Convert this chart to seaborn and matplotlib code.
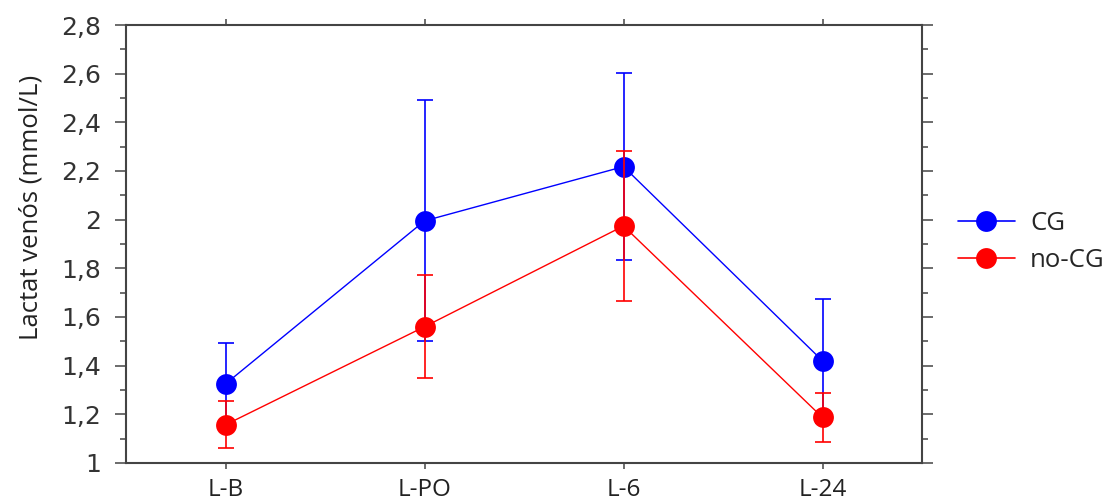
import numpy as np
import pandas as pd
import matplotlib
matplotlib.use("Agg")
import matplotlib.pyplot as plt
import seaborn as sns
from matplotlib.lines import Line2D
from matplotlib.ticker import MultipleLocator, FuncFormatter

categories = ["L-B", "L-PO", "L-6", "L-24"]
cg_mean = [1.325, 1.995, 2.218, 1.42]
cg_err = [0.17, 0.495, 0.385, 0.255]
nocg_mean = [1.157, 1.56, 1.974, 1.187]
nocg_err = [0.097, 0.212, 0.307, 0.10]
groups = ["CG", "no-CG"]
colors = {"CG": "#0000FF", "no-CG": "#FF0000"}

sns.set_theme(style="white")
plt.rcParams["font.family"] = ["Open Sans", "DejaVu Sans"]

pos = np.arange(len(categories))
df = pd.DataFrame({
    "pos": np.concatenate([pos, pos]),
    "value": cg_mean + nocg_mean,
    "group": ["CG"] * len(categories) + ["no-CG"] * len(categories),
})

fig = plt.figure(figsize=(11.06, 5.04), dpi=100)
ax = fig.add_axes([126 / 1106, 1 - 463 / 504, (922 - 126) / 1106, (463 - 25) / 504])

# blue error bars behind the markers, red ones on top
ax.errorbar(pos, cg_mean, yerr=cg_err, fmt="none", ecolor=colors["CG"], elinewidth=1.2,
            capsize=5.5, capthick=1.2, zorder=1.5)

sns.lineplot(data=df, x="pos", y="value", hue="group", palette=colors,
             marker="o", markersize=15, markeredgewidth=0, linewidth=1.0,
             legend=False, ax=ax)

ax.errorbar(pos, nocg_mean, yerr=nocg_err, fmt="none", ecolor=colors["no-CG"], elinewidth=1.2,
            capsize=5.5, capthick=1.2, zorder=3)

ax.set_xlim(-0.5, 3.5)
ax.set_ylim(1, 2.8)
ax.set_xticks(pos)
ax.set_xticklabels(categories, fontsize=17.5, color="#222222")
ax.yaxis.set_major_locator(MultipleLocator(0.2))
ax.yaxis.set_minor_locator(MultipleLocator(0.1))
ax.yaxis.set_major_formatter(FuncFormatter(lambda v, p: f"{v:g}".replace(".", ",")))
ax.tick_params(axis="y", which="major", labelsize=18, labelcolor="#333333",
               length=8, width=1.1, color="#444444", direction="out",
               left=True, right=True, pad=10)
ax.tick_params(axis="y", which="minor", length=4.5, width=1.1, color="#444444",
               direction="out", left=True, right=True)
ax.tick_params(axis="x", which="major", length=4, width=1.1, color="#444444",
               direction="out", top=True, bottom=True, pad=7)
for lab in ax.get_yticklabels():
    lab.set_family(["DejaVu Sans"])

for s in ax.spines.values():
    s.set_visible(True)
    s.set_color("#444444")
    s.set_linewidth(1.5)

ax.set_xlabel("")
ax.set_ylabel("Lactat venós (mmol/L)", fontsize=18.5, color="#222222")
ax.yaxis.set_label_coords((44 - 126) / 796, (463 - 207) / 438)

handles = [Line2D([0], [0], color=colors[g], marker="o", markersize=15,
                  markeredgewidth=0, linewidth=1.2) for g in groups]
fig.legend(handles, groups, loc="center left", bbox_to_anchor=(958 / 1106, 1 - 242 / 504),
           frameon=False, fontsize=18.5, handlelength=2.2, handletextpad=0.6,
           labelspacing=0.45, borderpad=0, borderaxespad=0)

fig.savefig("out.png", dpi=100)
